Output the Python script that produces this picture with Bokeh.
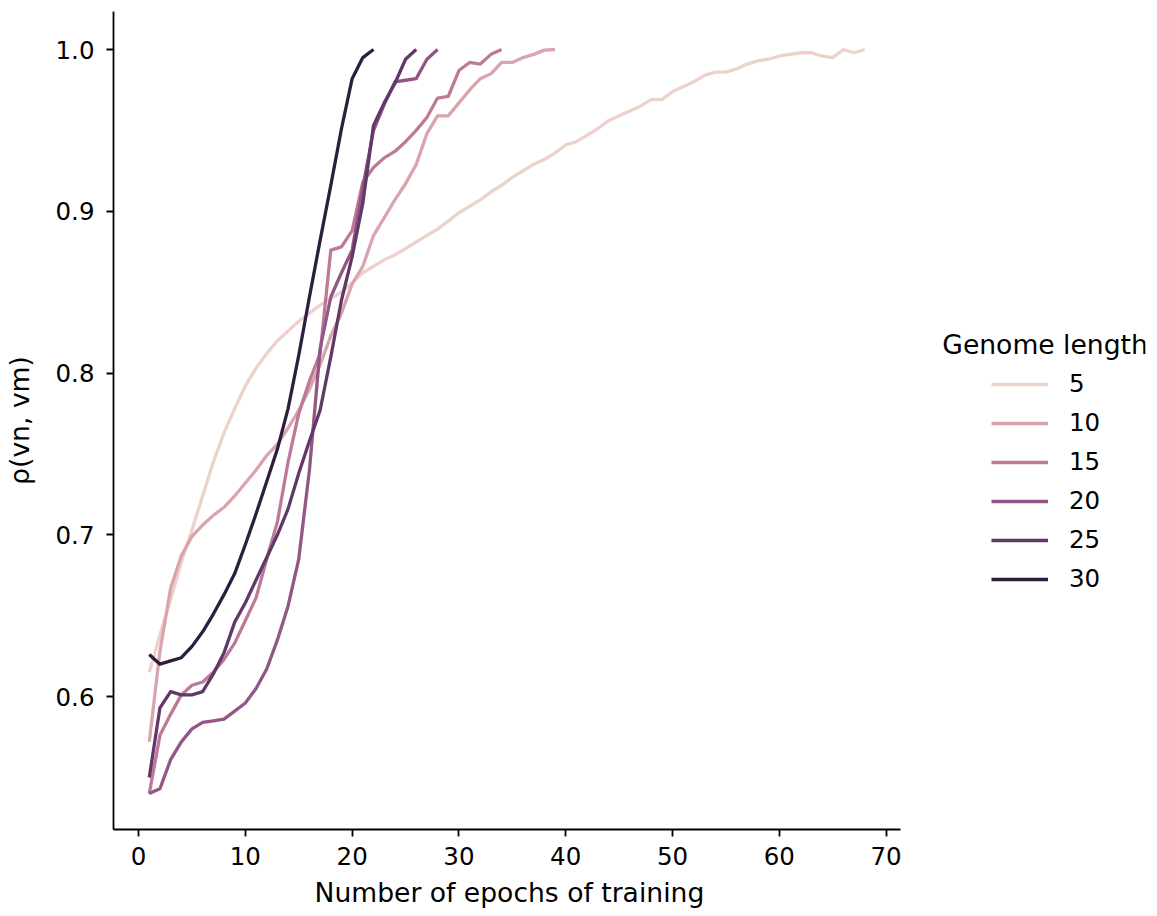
from bokeh.plotting import figure
from bokeh.models import Range1d, FixedTicker, Legend, LegendItem, Label, PrintfTickFormatter, Title
from bokeh.embed import file_html
from bokeh.resources import INLINE

genome_lengths = [5, 10, 15, 20, 25, 30]
colors = ["#edd1cb", "#daa4ac", "#bd7a98", "#935685", "#613969", "#2d1e3e"]

rho_5 = [0.615, 0.638, 0.660, 0.683, 0.703, 0.724, 0.745, 0.763, 0.778, 0.792,
         0.803, 0.812, 0.820, 0.826, 0.832, 0.837, 0.842, 0.846, 0.850, 0.856,
         0.862, 0.866, 0.870, 0.873, 0.877, 0.881, 0.885, 0.889, 0.894, 0.899,
         0.903, 0.907, 0.912, 0.916, 0.921, 0.925, 0.929, 0.932, 0.936, 0.941,
         0.943, 0.947, 0.951, 0.956, 0.959, 0.962, 0.965, 0.969, 0.969, 0.974,
         0.977, 0.980, 0.984, 0.986, 0.986, 0.988, 0.991, 0.993, 0.994, 0.996,
         0.997, 0.998, 0.998, 0.996, 0.995, 1.000, 0.998, 1.000]
rho_10 = [0.572, 0.628, 0.667, 0.687, 0.699, 0.706, 0.712, 0.717, 0.724, 0.732,
          0.740, 0.749, 0.756, 0.766, 0.777, 0.790, 0.805, 0.823, 0.837, 0.855,
          0.866, 0.885, 0.896, 0.907, 0.917, 0.929, 0.948, 0.959, 0.959, 0.967,
          0.975, 0.982, 0.985, 0.992, 0.992, 0.995, 0.997, 0.9996, 1.000]
rho_15 = [0.540, 0.576, 0.589, 0.601, 0.607, 0.609, 0.615, 0.623, 0.633, 0.647,
          0.661, 0.685, 0.708, 0.745, 0.775, 0.795, 0.812, 0.876, 0.878, 0.888,
          0.918, 0.927, 0.933, 0.937, 0.943, 0.950, 0.958, 0.970, 0.971, 0.987,
          0.992, 0.991, 0.997, 1.000]
rho_20 = [0.540, 0.543, 0.561, 0.572, 0.580, 0.584, 0.585, 0.586, 0.591, 0.596,
          0.605, 0.617, 0.635, 0.656, 0.685, 0.740, 0.815, 0.847, 0.862, 0.876,
          0.915, 0.950, 0.966, 0.980, 0.981, 0.982, 0.994, 1.000]
rho_25 = [0.550, 0.593, 0.603, 0.601, 0.601, 0.603, 0.614, 0.627, 0.646, 0.658,
          0.672, 0.686, 0.700, 0.716, 0.738, 0.758, 0.777, 0.810, 0.845, 0.872,
          0.905, 0.953, 0.967, 0.979, 0.994, 1.000]
rho_30 = [0.626, 0.620, 0.622, 0.624, 0.631, 0.640, 0.651, 0.663, 0.676, 0.694,
          0.713, 0.733, 0.753, 0.778, 0.811, 0.847, 0.882, 0.916, 0.951, 0.982,
          0.995, 1.000]
series = [rho_5, rho_10, rho_15, rho_20, rho_25, rho_30]

x_ticks = [0, 10, 20, 30, 40, 50, 60, 70]
y_ticks = [0.6, 0.7, 0.8, 0.9, 1.0]
legend_title = "Genome length"
x_label = "Number of epochs of training"
y_label = "ρ(vn, vm)"

FONT = "DejaVu Sans"

# axis extent of the data area (seaborn-style 5% margins)
X_LO, X_HI = -2.35, 71.35
Y_LO, Y_HI = 0.5178, 1.0235
PX_PER_X = 790 / (X_HI - X_LO)

W, H = 1150, 914
LEFT, RIGHT, TOP, BOTTOM = 109, 5, 11, 85
frame_w = W - LEFT - RIGHT
x_end = X_LO + frame_w / PX_PER_X

p = figure(width=W, height=H, output_backend="svg", toolbar_location=None,
           x_range=Range1d(X_LO, x_end), y_range=Range1d(Y_LO, Y_HI),
           min_border_left=LEFT, min_border_right=RIGHT, min_border_top=TOP,
           min_border_bottom=BOTTOM)
p.outline_line_color = None
p.xgrid.visible = False
p.ygrid.visible = False
p.background_fill_color = "white"
p.border_fill_color = "white"

items = []
for g, c, ys in zip(genome_lengths, colors, series):
    xs = list(range(1, len(ys) + 1))
    r = p.line(xs, ys, line_color=c, line_width=3.3, line_join="round")
    items.append(LegendItem(label=str(g), renderers=[r]))

for ax in (p.xaxis[0], p.yaxis[0]):
    ax.axis_line_color = "black"
    ax.axis_line_width = 1.8
    ax.major_tick_line_color = "black"
    ax.major_tick_line_width = 1.8
    ax.major_tick_out = 7
    ax.major_tick_in = 0
    ax.minor_tick_line_color = None
    ax.major_label_text_font = FONT
    ax.major_label_text_font_size = "24.5px"
    ax.major_label_text_color = "black"
    ax.axis_label_text_font = FONT
    ax.axis_label_text_font_size = "26.6px"
    ax.axis_label_text_font_style = "normal"
    ax.axis_label_text_color = "black"

p.xaxis.bounds = (X_LO, X_HI)
p.xaxis.ticker = FixedTicker(ticks=x_ticks)
p.yaxis.ticker = FixedTicker(ticks=y_ticks)
p.yaxis.formatter = PrintfTickFormatter(format="%.1f")
p.yaxis.axis_label = y_label
p.xaxis.major_label_standoff = 10
p.yaxis.major_label_standoff = 12
p.yaxis.axis_label_standoff = 18

# x-axis label centred under the axis line (not under the whole frame)
xt = Title(text=x_label, align="left", offset=(312 - 111),
           text_font=FONT, text_font_size="26.6px", text_font_style="normal",
           text_color="black", standoff=14)
p.add_layout(xt, "below")

legend = Legend(items=items, location=(878, 236), padding=0, margin=0,
                spacing=10, glyph_width=57, glyph_height=28, label_height=28,
                label_standoff=21,
                label_text_font=FONT, label_text_font_size="24.5px",
                label_text_color="black", border_line_color=None,
                background_fill_alpha=0)
p.add_layout(legend, "center")

title = Label(x=X_LO + (943 - 111) / PX_PER_X, y=0.8176,
              text=legend_title, text_font=FONT, text_font_size="26.6px",
              text_color="black", text_baseline="middle", text_align="left")
p.add_layout(title)

open("out.html", "w").write(file_html(p, INLINE))
